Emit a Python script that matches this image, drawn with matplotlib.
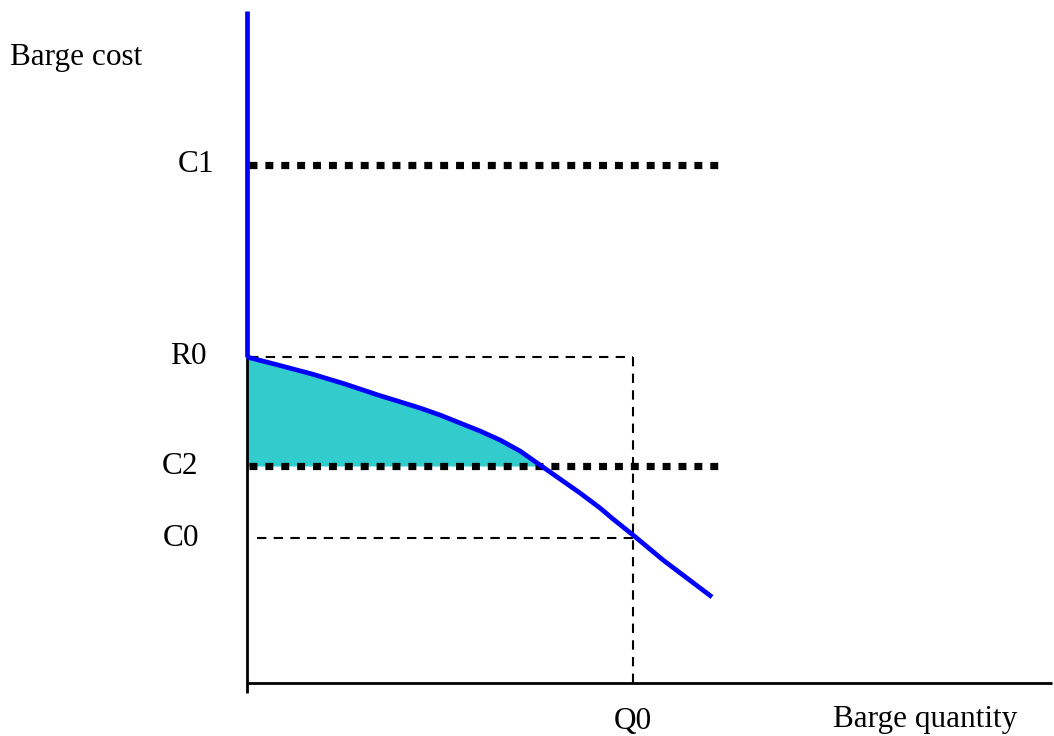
import numpy as np
import matplotlib.pyplot as plt

# values (arbitrary units, origin at the axes corner)
quantity = [0, 31, 65, 98, 131, 173, 193, 213, 233, 253, 273, 293, 313, 333,
            353, 366, 386, 416, 465]
cost = [326, 318, 309, 299, 288, 275, 268, 260, 252, 243, 232, 218, 204, 190,
        175, 164, 148, 123, 86]

level_names = ["C1", "R0", "C2", "C0"]
level_values = [518, 326, 217, 145]
q0 = 386
cost_top = 672
line_end = 473

plt.rcParams["font.family"] = ["Liberation Serif", "DejaVu Serif"]

W, H = 1054, 736
fig = plt.figure(figsize=(W / 100, H / 100), dpi=100)
ax = fig.add_axes([247 / W, 53 / H, 805 / W, 673 / H])
ax.set_xlim(0, 805)
ax.set_ylim(0, 673)
ax.axis("off")

c1, r0, c2, c0 = level_values

# axes lines :
ax.plot([0, 0], [-10, r0], color="black", lw=2, clip_on=False, solid_capstyle="butt")
ax.plot([0, 805], [0, 0], color="black", lw=2, clip_on=False, solid_capstyle="butt")

# shaded area between curve and C2 :
q = np.array(quantity, dtype=float)
c = np.array(cost, dtype=float)
ax.fill_between(q, c, c2, where=c >= c2, interpolate=True, color="#33CCCC", lw=0, zorder=1)

# dashed guides :
dash = (0, (4.5, 3.5))
ax.plot([2, q0], [r0, r0], color="black", lw=1.5, ls=dash, zorder=2)
ax.plot([10, q0], [c0, c0], color="black", lw=1.5, ls=dash, zorder=2)
ax.plot([q0, q0], [0, r0], color="black", lw=1.5, ls=dash, zorder=2)

# dotted cost levels :
for lv in (c1, c2):
    ax.plot([2, line_end], [lv, lv], color="black", lw=5.2,
            ls=(0, (1.1, 1.1)), dash_capstyle="butt", zorder=3)

# supply curve :
ax.plot([0, 0], [r0, cost_top], color="#0000FF", lw=3.4,
        solid_capstyle="butt", clip_on=False, zorder=4)
ax.plot(q, c, color="#0000FF", lw=3.4, solid_capstyle="butt",
        solid_joinstyle="round", clip_on=False, zorder=4)

# labels :
fs = 22.5
label_left = [178, 170, 162, 163]
for name, lv, xl in zip(level_names, level_values, label_left):
    ax.text(xl - 247, lv, name, fontsize=fs, ha="left", va="center")
ax.text(q0, -38, "Q0", fontsize=fs, ha="center", va="center")
fig.text(10 / W, 1 - 65 / H, "Barge cost", fontsize=fs, ha="left", va="baseline")
fig.text(833 / W, 1 - 727 / H, "Barge quantity", fontsize=fs, ha="left", va="baseline")

fig.savefig("out.png", dpi=100)
